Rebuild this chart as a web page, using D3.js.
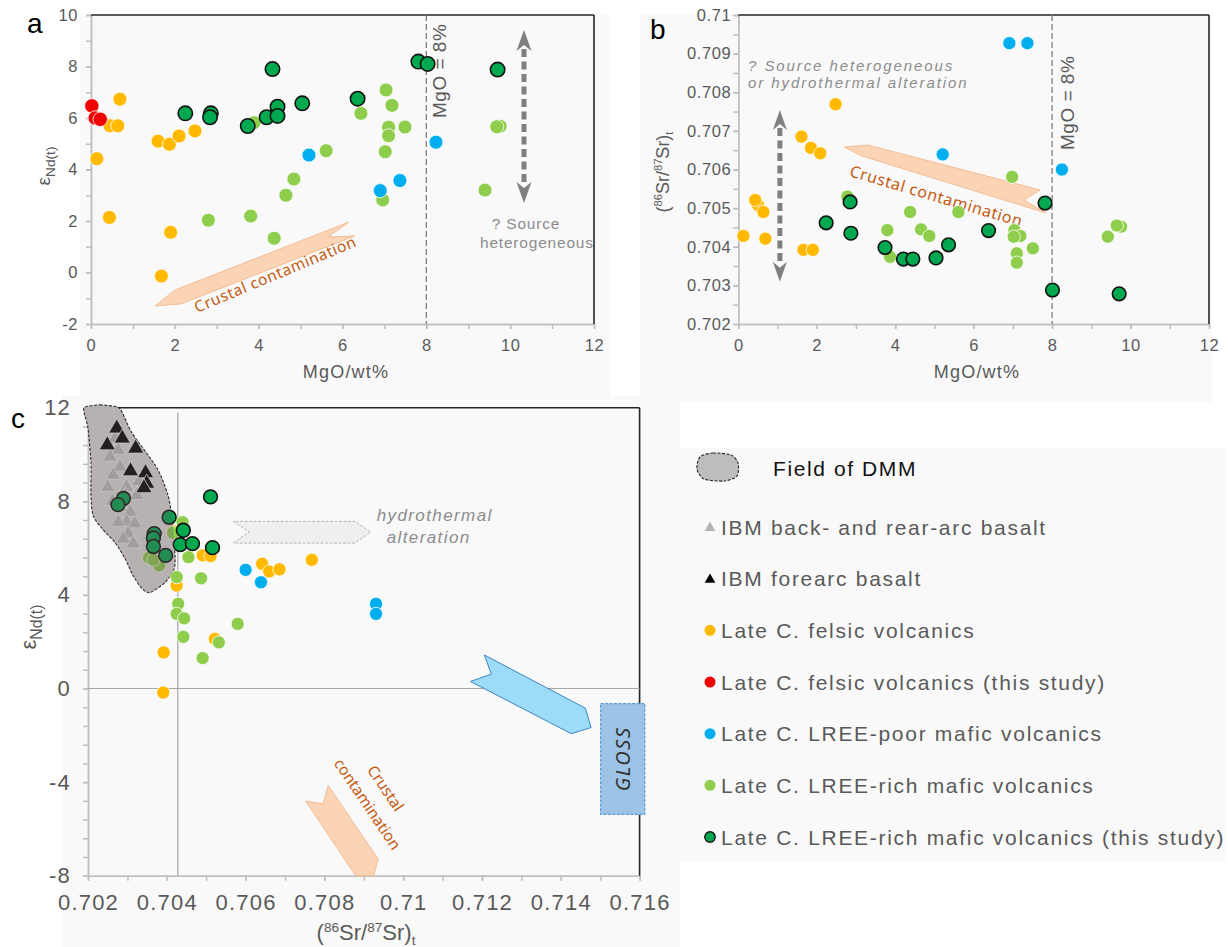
<!DOCTYPE html>
<html lang="en">
<head>
<meta charset="utf-8">
<title>MgO - eNd - Sr isotope plots</title>
<script src="https://cdn.jsdelivr.net/npm/d3@7"></script>
<style>
  body { margin: 0; background: #fff; }
  text { font-family: "Liberation Sans", Arial, sans-serif; }
</style>
</head>
<body>
<svg id="fig" width="1228" height="947"></svg>
<script>
// ---------------- data ----------------
// panel a : [MgO wt%, eNd(t)]
var felsicA = [[0.14,4.42],[0.45,5.7],[0.64,5.7],[0.69,6.73],[1.6,5.1],[1.87,4.98],[2.1,5.3],[2.48,5.5],[0.44,2.14],[1.9,1.56],[1.68,-0.14]];
var felsicStudyA = [[0.02,6.47],[0.1,6.0],[0.22,5.95]];
var poorA = [[5.2,4.56],[8.23,5.06],[7.37,3.57],[6.9,3.18]];
var richA = [[3.89,5.82],[4.84,3.63],[4.65,3.0],[5.61,4.73],[7.04,7.09],[7.18,6.49],[6.44,6.18],[7.1,5.64],[7.49,5.65],[7.1,5.31],[7.02,4.69],[6.96,2.82],[9.76,5.68],[9.68,5.66],[9.4,3.2],[2.8,2.03],[3.81,2.19],[4.37,1.33]];
var richStudyA = [[2.25,6.18],[2.86,6.18],[2.84,6.03],[3.74,5.69],[4.33,7.9],[4.19,6.03],[4.45,6.44],[4.45,6.08],[5.04,6.57],[6.36,6.75],[7.81,8.19],[8.03,8.1],[9.7,7.88]];

// panel b : [MgO wt%, (86Sr/87Sr)t]
var felsicB = [[2.48,0.70769],[1.61,0.70685],[1.85,0.70656],[2.09,0.70642],[0.5,0.70508],[0.43,0.70521],[0.64,0.7049],[0.13,0.70428],[0.69,0.70421],[1.66,0.70392],[1.9,0.70392]];
var poorB = [[6.91,0.70927],[7.37,0.70927],[5.21,0.70639],[8.25,0.706]];
var richB = [[6.98,0.70581],[2.78,0.7053],[3.8,0.70443],[3.87,0.70374],[4.38,0.7049],[4.66,0.70445],[4.87,0.70428],[5.61,0.7049],[7.04,0.70443],[7.19,0.70428],[7.02,0.70426],[7.1,0.70383],[7.1,0.70359],[7.51,0.70396],[9.76,0.70452],[9.65,0.70455],[9.42,0.70426]];
var richStudyB = [[2.24,0.70462],[2.85,0.70516],[2.87,0.70435],[3.74,0.70398],[4.21,0.70368],[4.45,0.70368],[5.04,0.70371],[5.36,0.70405],[6.38,0.70442],[7.82,0.70513],[8.01,0.70288],[9.71,0.70278]];

// panel c : [(86Sr/87Sr)t, eNd(t)]
var felsicC = [[0.70417,6.72],[0.70491,5.69],[0.70511,5.66],[0.70425,4.4],[0.70642,5.33],[0.7066,5.0],[0.70686,5.09],[0.70768,5.5],[0.70522,2.12],[0.70392,1.54],[0.70391,-0.17]];
var poorC = [[0.706,5.07],[0.70639,4.54],[0.70931,3.62],[0.70931,3.19]];
var richC = [[0.7044,7.11],[0.70416,6.65],[0.70355,5.59],[0.70381,5.26],[0.70366,5.5],[0.70455,5.61],[0.70425,4.76],[0.70487,4.71],[0.70429,3.62],[0.70425,3.19],[0.70444,3.0],[0.7058,2.76],[0.70532,1.97],[0.70442,2.21],[0.70491,1.3]];
var richStudyC = [[0.70511,8.19],[0.7029,8.12],[0.70276,7.86],[0.70406,7.32],[0.70368,6.62],[0.70366,6.43],[0.70366,6.07],[0.70397,5.69],[0.70442,6.76],[0.70434,6.15],[0.70465,6.19],[0.70516,6.02]];
var forearcC = [[0.70273,11.12],[0.70287,10.69],[0.70249,10.4],[0.70321,10.26],[0.70308,9.29],[0.70346,9.21],[0.70349,8.76],[0.70342,8.57]];
var backarcC = [[0.70269,10.69],[0.70277,10.19],[0.70256,9.9],[0.70281,9.47],[0.70264,9.12],[0.7033,8.85],[0.70298,8.61],[0.7025,8.6],[0.70294,8.26],[0.70324,8.26],[0.70262,8.0],[0.70281,7.76],[0.70307,7.54],[0.70298,7.11],[0.70319,7.05],[0.70277,7.11],[0.70302,6.62],[0.7029,6.4],[0.70315,6.19]];
// outline of the DMM field
var dmmField = [[0.701924,12.03],[0.702305,12.12],[0.702736,12.03],[0.702863,11.82],[0.703117,10.92],[0.703751,9.42],[0.70403,8.26],[0.704132,7.27],[0.704208,5.69],[0.704183,5.09],[0.703954,4.53],[0.703574,4.1],[0.703371,4.27],[0.703142,4.83],[0.702939,5.56],[0.702685,6.24],[0.702355,6.84],[0.702127,7.4],[0.702076,8.26],[0.702076,9.67],[0.702,11.13],[0.701898,11.82]];

// annotation shapes (data units)
var crustArrowA = [[1.527,-1.3],[2.004,-0.68],[6.155,1.96],[5.654,1.38],[6.298,1.42],[2.147,-1.22]];
var crustArrowB = [[2.695,0.706583],[3.307,0.706634],[7.692,0.705469],[7.284,0.70521],[7.845,0.704874],[3.153,0.706349]];
var crustArrowC = [[0.708099,-4.14],[0.707967,-4.929],[0.707525,-4.813],[0.708792,-8.0],[0.709254,-8.0],[0.709363,-7.286]];
var hydroArrowC = [[0.705688,7.144],[0.706094,6.686],[0.705688,6.214],[0.708777,6.214],[0.709175,6.686],[0.708777,7.144]];
var glossArrowC = [[0.712061,1.431],[0.712236,0.617],[0.711708,0.3],[0.714262,-1.929],[0.714769,-1.671],[0.714624,-0.84]];
var glossBox = [0.71501, 0.716132, -0.643, -5.383];

// ticks
var ticksAx = [0,2,4,6,8,10,12], minorAx = d3.range(0,13,1);
var ticksAy = [-2,0,2,4,6,8,10], minorAy = d3.range(-2,11,1);
var ticksBy = [0.702,0.703,0.704,0.705,0.706,0.707,0.708,0.709,0.71];
var minorBy = d3.range(17).map(function(i){ return 0.702 + i*0.0005; });
var ticksCx = [0.702,0.704,0.706,0.708,0.71,0.712,0.714,0.716];
var minorCx = d3.range(15).map(function(i){ return 0.702 + i*0.001; });
var ticksCy = [-8,-4,0,4,8,12];
var minorCy = d3.range(26).map(function(i){ return -8 + i*0.8; });

var legendItems = ["IBM back- and rear-arc basalt","IBM forearc basalt","Late C. felsic volcanics","Late C. felsic volcanics (this study)","Late C. LREE-poor mafic volcanics","Late C. LREE-rich mafic volcanics","Late C. LREE-rich mafic volcanics (this study)"];

// colours
var cFelsic = "#ffba00", cRed = "#f00000", cPoor = "#00aeef", cRich = "#8fce4d", cStudy = "#00a84f";

// ---------------- canvas ----------------
var svg = d3.select("#fig");
svg.append("rect").attr("width", 1228).attr("height", 947).attr("fill", "#fff");
var bgs = [[80,14,530,382],[640,14,572,388],[62,396,618,551],[680,448,545,414]];
svg.selectAll(null).data(bgs).enter().append("rect")
  .attr("x", function(d){ return d[0]; }).attr("y", function(d){ return d[1]; })
  .attr("width", function(d){ return d[2]; }).attr("height", function(d){ return d[3]; })
  .attr("fill", "#f9f9f9");

var xA = d3.scaleLinear().domain([0,12]).range([91,594]);
var yA = d3.scaleLinear().domain([-2,10]).range([324,15]);
var xB = d3.scaleLinear().domain([0,12]).range([738.3,1209]);
var yB = d3.scaleLinear().domain([0.702,0.71]).range([324,15]);
var xC = d3.scaleLinear().domain([0.702,0.716]).range([88,639.6]);
var yC = d3.scaleLinear().domain([-8,12]).range([875.7,407.7]);

function fmt(d){ return String(+d.toFixed(3)); }

function drawAxes(x, y, o) {
  var g = svg.append("g");
  var x0 = x.range()[0], x1 = x.range()[1], y0 = y.range()[0], y1 = y.range()[1];
  g.append("g").attr("transform", "translate(0," + y0 + ")")
    .call(d3.axisBottom(x).tickValues(o.xMinor).tickSize(5).tickSizeOuter(0).tickFormat(""));
  g.append("g").attr("transform", "translate(" + x0 + ",0)")
    .call(d3.axisLeft(y).tickValues(o.yMinor).tickSize(5).tickSizeOuter(0).tickFormat(""));
  g.append("g").attr("class", "lab").attr("transform", "translate(0," + y0 + ")")
    .call(d3.axisBottom(x).tickValues(o.xMajor).tickSize(5).tickSizeOuter(0).tickPadding(o.padX).tickFormat(fmt));
  g.append("g").attr("class", "lab").attr("transform", "translate(" + x0 + ",0)")
    .call(d3.axisLeft(y).tickValues(o.yMajor).tickSize(5).tickSizeOuter(0).tickPadding(o.padY).tickFormat(fmt));
  g.selectAll(".domain, .tick line").attr("stroke", "#bfbfbf").attr("stroke-width", 1.5);
  g.selectAll(".lab").attr("font-family", null).attr("font-size", null);
  g.selectAll(".tick text").attr("fill", "#595959")
    .style("font-size", o.fs + "px").style("letter-spacing", o.ls + "px");
  // black frame on top and right
  g.append("line").attr("x1", x0).attr("x2", x1).attr("y1", y1).attr("y2", y1)
    .attr("stroke", "#262626").attr("stroke-width", 1.6);
  g.append("line").attr("x1", x1).attr("x2", x1).attr("y1", y1).attr("y2", y0)
    .attr("stroke", "#262626").attr("stroke-width", 1.6);
  return g;
}

function dots(data, x, y, fill, r, study) {
  svg.append("g").selectAll("circle").data(data).enter().append("circle")
    .attr("cx", function(d){ return x(d[0]); })
    .attr("cy", function(d){ return y(d[1]); })
    .attr("r", r)
    .attr("fill", fill)
    .attr("stroke", study ? "#111" : "#fff")
    .attr("stroke-width", study ? 1.6 : 0.8);
}

function poly(pts, x, y, fill, stroke, dash) {
  return svg.append("path")
    .attr("d", "M" + pts.map(function(p){ return x(p[0]) + "," + y(p[1]); }).join("L") + "Z")
    .attr("fill", fill).attr("stroke", stroke).attr("stroke-width", 1)
    .attr("stroke-dasharray", dash || null);
}

function dblArrow(x, y, xv, ya, yb, len, half) {
  var px = x(xv), pa = y(ya), pb = y(yb);
  svg.append("line").attr("x1", px).attr("x2", px).attr("y1", pa + len - 2).attr("y2", pb - len + 2)
    .attr("stroke", "#7f7f7f").attr("stroke-width", 5).attr("stroke-dasharray", "8,4.5");
  var head = "M0,0L" + half + "," + len + "L0," + (len - 6) + "L" + (-half) + "," + len + "Z";
  svg.append("path").attr("d", head).attr("fill", "#7f7f7f")
    .attr("transform", "translate(" + px + "," + pa + ")");
  svg.append("path").attr("d", head).attr("fill", "#7f7f7f")
    .attr("transform", "translate(" + px + "," + pb + ") rotate(180)");
}

function label(txt, x, y, o) {
  var t = svg.append("text").attr("x", 0).attr("y", 0)
    .attr("transform", "translate(" + x + "," + y + ")" + (o.rot ? " rotate(" + o.rot + ")" : ""))
    .attr("fill", o.fill || "#595959")
    .attr("text-anchor", o.anchor || "start")
    .style("font-size", o.fs + "px")
    .style("letter-spacing", (o.ls || 0) + "px")
    .text(txt);
  if (o.italic) t.style("font-style", "italic");
  if (o.family) t.style("font-family", o.family);
  return t;
}

// epsilon Nd label
function epsLabel(x, y, fs) {
  var t = svg.append("text").attr("transform", "translate(" + x + "," + y + ") rotate(-90)")
    .attr("text-anchor", "middle").attr("fill", "#595959");
  t.append("tspan").style("font-size", fs + "px").text("ε");
  t.append("tspan").attr("dy", fs * 0.25).style("font-size", (fs * 0.72) + "px").text("Nd(t)");
}
// (86Sr/87Sr)t label
function srLabel(x, y, fs, rot) {
  var t = svg.append("text").attr("transform", "translate(" + x + "," + y + ")" + (rot ? " rotate(" + rot + ")" : ""))
    .attr("text-anchor", "middle").attr("fill", "#595959").style("font-size", fs + "px");
  var s = fs * 0.62, up = fs * 0.38;
  t.append("tspan").text("(");
  t.append("tspan").attr("dy", -up).style("font-size", s + "px").text("86");
  t.append("tspan").attr("dy", up).text("Sr/");
  t.append("tspan").attr("dy", -up).style("font-size", s + "px").text("87");
  t.append("tspan").attr("dy", up).text("Sr)");
  t.append("tspan").attr("dy", fs * 0.22).style("font-size", s + "px").text("t");
}

// ================= panel a =================
drawAxes(xA, yA, {xMajor: ticksAx, xMinor: minorAx, yMajor: ticksAy, yMinor: minorAy, padX: 10, padY: 8, fs: 16.5, ls: 0.6});
svg.append("line").attr("x1", xA(8)).attr("x2", xA(8)).attr("y1", yA(10)).attr("y2", yA(-2))
  .attr("stroke", "#7f7f7f").attr("stroke-width", 1.3).attr("stroke-dasharray", "6,3");
poly(crustArrowA, xA, yA, "#fbd4b6", "#f2bd95");
label("Crustal contamination", xA(2.53), yA(-1.57), {rot: -22.7, fs: 15.5, fill: "#c55a11", family: "'Noto Sans', 'Open Sans', sans-serif", ls: 0.6});
dblArrow(xA, yA, 10.33, 9.42, 2.7, 21, 7.5);
label("? Source", xA(9.56), yA(1.69), {fs: 15.5, fill: "#8c8c8c", ls: 0.8});
label("heterogeneous", xA(9.28), yA(0.95), {fs: 15.5, fill: "#8c8c8c", ls: 0.8});
label("MgO = 8%", xA(8.48), yA(6.0), {rot: -90, fs: 19, fill: "#595959", ls: 0.5});
dots(felsicA, xA, yA, cFelsic, 7, false);
dots(felsicStudyA, xA, yA, cRed, 7.2, false);
dots(richA, xA, yA, cRich, 7, false);
dots(poorA, xA, yA, cPoor, 7, false);
dots(richStudyA, xA, yA, cStudy, 7.2, true);
label("MgO/wt%", 346, 378, {anchor: "middle", fs: 18, ls: 1.2});
epsLabel(50, 166, 19);
label("a", 27, 33, {fs: 28, fill: "#000"});

// ================= panel b =================
drawAxes(xB, yB, {xMajor: ticksAx, xMinor: minorAx, yMajor: ticksBy, yMinor: minorBy, padX: 10, padY: 2, fs: 16.5, ls: 0.6});
svg.append("line").attr("x1", xB(8)).attr("x2", xB(8)).attr("y1", yB(0.71)).attr("y2", yB(0.702))
  .attr("stroke", "#7f7f7f").attr("stroke-width", 1.3).attr("stroke-dasharray", "6,3");
poly(crustArrowB, xB, yB, "#fbd4b6", "#f2bd95");
label("Crustal contamination", xB(2.817), yB(0.705832), {rot: 16.5, fs: 16, fill: "#c55a11", family: "'Noto Sans', 'Open Sans', sans-serif", ls: 0.6});
dblArrow(xB, yB, 1.06, 0.70754, 0.703095, 20, 7);
label("? Source heterogeneous", xB(0.25), yB(0.70855), {fs: 15, fill: "#8c8c8c", italic: true, ls: 1.9});
label("or hydrothermal alteration", xB(0.25), yB(0.70811), {fs: 15, fill: "#8c8c8c", italic: true, ls: 1.9});
label("MgO = 8%", xB(8.55), yB(0.706505), {rot: -90, fs: 19, fill: "#595959", ls: 0.5});
dots(felsicB, xB, yB, cFelsic, 6.6, false);
dots(richB, xB, yB, cRich, 6.6, false);
dots(poorB, xB, yB, cPoor, 6.6, false);
dots(richStudyB, xB, yB, cStudy, 6.8, true);
label("MgO/wt%", 977, 378, {anchor: "middle", fs: 18, ls: 1.2});
srLabel(669, 172, 18, -90);
label("b", 650, 39, {fs: 28, fill: "#000"});

// ================= panel c =================
drawAxes(xC, yC, {xMajor: ticksCx, xMinor: minorCx, yMajor: ticksCy, yMinor: minorCy, padX: 14, padY: 12, fs: 22, ls: 1.2});
svg.append("line").attr("x1", xC(0.70428)).attr("x2", xC(0.70428)).attr("y1", yC(11.8)).attr("y2", yC(-8))
  .attr("stroke", "#a6a6a6").attr("stroke-width", 1.2);
svg.append("line").attr("x1", xC(0.702)).attr("x2", xC(0.716)).attr("y1", yC(0)).attr("y2", yC(0))
  .attr("stroke", "#a6a6a6").attr("stroke-width", 1.2);

var fieldLine = d3.line().x(function(d){ return xC(d[0]); }).y(function(d){ return yC(d[1]); })
  .curve(d3.curveCardinalClosed.tension(0.3));
svg.append("path").attr("d", fieldLine(dmmField)).attr("fill", "#e4e1e1")
  .attr("stroke", "#222").attr("stroke-width", 1.1).attr("stroke-dasharray", "3,1.5");

var tri = d3.symbol().type(d3.symbolTriangle);
svg.append("g").selectAll("path").data(backarcC).enter().append("path")
  .attr("d", tri.size(95)())
  .attr("transform", function(d){ return "translate(" + xC(d[0]) + "," + yC(d[1]) + ")"; })
  .attr("fill", "#c2c2c2").attr("stroke", "#fff").attr("stroke-width", 0.7);
svg.append("g").selectAll("path").data(forearcC).enter().append("path")
  .attr("d", tri.size(115)())
  .attr("transform", function(d){ return "translate(" + xC(d[0]) + "," + yC(d[1]) + ")"; })
  .attr("fill", "#000").attr("stroke", "#fff").attr("stroke-width", 0.8);

poly(hydroArrowC, xC, yC, "#efefef", "#b5b5b5", "3,1.5");
label("hydrothermal", xC(0.709327), yC(7.14), {fs: 17, fill: "#8c8c8c", italic: true, ls: 1.4});
label("alteration", xC(0.709581), yC(6.2), {fs: 17, fill: "#8c8c8c", italic: true, ls: 1.4});

poly(glossArrowC, xC, yC, "#9cdcf8", "#3d85c6");
svg.append("rect").attr("x", xC(glossBox[0])).attr("y", yC(glossBox[2]))
  .attr("width", xC(glossBox[1]) - xC(glossBox[0])).attr("height", yC(glossBox[3]) - yC(glossBox[2]))
  .attr("fill", "#9dc3e6").attr("stroke", "#5b9bd5").attr("stroke-width", 1.2).attr("stroke-dasharray", "3,1.5");
label("GLOSS", xC(0.715571) + 7, yC(-3.01), {rot: -90, anchor: "middle", fs: 20, fill: "#333", italic: true, ls: 1.5,
  family: "'Noto Sans', 'Open Sans', sans-serif"});

poly(crustArrowC, xC, yC, "#fbd4b6", "#f2bd95");
label("Crustal", xC(0.709437), yC(-4.39), {rot: 56, anchor: "middle", fs: 15.5, fill: "#c55a11", family: "'Noto Sans', 'Open Sans', sans-serif"});
label("contamination", xC(0.70898), yC(-5.07), {rot: 56, anchor: "middle", fs: 15.5, fill: "#c55a11", family: "'Noto Sans', 'Open Sans', sans-serif"});

dots(felsicC, xC, yC, cFelsic, 6.6, false);
dots(richC, xC, yC, cRich, 6.6, false);
dots(poorC, xC, yC, cPoor, 6.6, false);
dots(richStudyC, xC, yC, cStudy, 6.9, true);
// translucent veil of the DMM field over the points
svg.append("path").attr("d", fieldLine(dmmField)).attr("fill", "rgba(100,90,90,0.35)").attr("stroke", "none");

srLabel(366, 940, 22, 0);
epsLabel(36, 627, 22);
label("c", 11, 428, {fs: 28, fill: "#000"});

// ================= legend =================
var legY = d3.scalePoint().domain(legendItems).range([527, 837]);
var leg = svg.append("g");
leg.append("path")
  .attr("d", d3.line().curve(d3.curveCardinalClosed.tension(0.2))([[700,457],[713,453],[731,455],[738,463],[737,476],[724,481],[704,479],[697,469]]))
  .attr("fill", "#bdbdbd").attr("stroke", "#222").attr("stroke-width", 1.1).attr("stroke-dasharray", "3,1.5");
label("Field of DMM", 773, 476, {fs: 21, fill: "#111", ls: 1.6});
var markers = [
  {shape: "tri", fill: "#b3b3b3", size: 50},
  {shape: "tri", fill: "#000", size: 50},
  {fill: cFelsic}, {fill: cRed}, {fill: cPoor}, {fill: cRich}, {fill: cStudy, study: true}
];
legendItems.forEach(function(name, i) {
  var y = legY(name), m = markers[i];
  if (m.shape === "tri") {
    leg.append("path").attr("d", tri.size(m.size)()).attr("transform", "translate(710," + (y + 1) + ")").attr("fill", m.fill);
  } else {
    leg.append("circle").attr("cx", 710).attr("cy", y).attr("r", m.study ? 5.2 : 5.5)
      .attr("fill", m.fill).attr("stroke", m.study ? "#111" : "none").attr("stroke-width", 1.4);
  }
  label(name, 721, y + 7.5, {fs: 21, fill: "#595959", ls: 1.7});
});
</script>
</body>
</html>
